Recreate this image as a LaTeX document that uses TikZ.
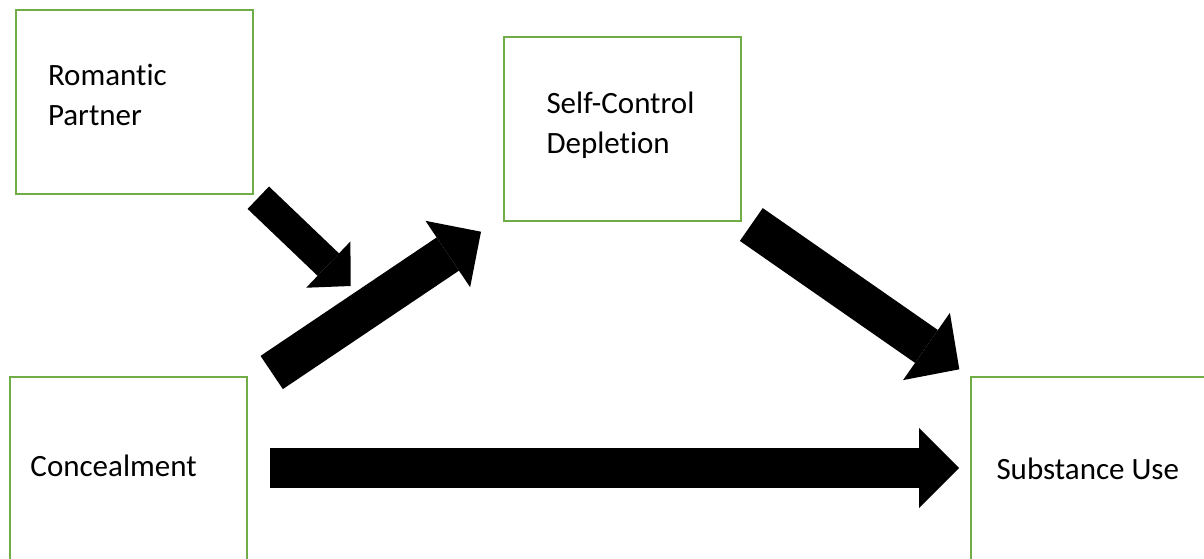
\documentclass[tikz,border=0pt]{standalone}
\usepackage{fontspec}
\setmainfont{Carlito}[Ligatures=NoCommon]
\usetikzlibrary{arrows.meta}
\definecolor{boxgreen}{RGB}{112,173,71}
\tikzset{
  box/.style={
    draw=boxgreen,
    line width=2pt,
    minimum width=237pt,
    minimum height=184pt,
    inner sep=0pt,
    text width=#1,
    align=flush left,
    anchor=north west,
    font=\fontsize{31}{40}\selectfont
  },
  flow/.style 2 args={
    line width=#1,
    -{Triangle[length=#1, width=#2, line width=0pt]}
  }
}

\begin{document}
\begin{tikzpicture}[x=1pt, y=-1pt]
   \useasboundingbox (0,0) rectangle (1204,558);
   \clip (0,0) rectangle (1204,558);

   \node[box=173pt, text depth=54pt] (partner)   at (15,9)    {Romantic\\Partner};
   \node[box=152pt, text depth=52pt] (depletion) at (503,36)  {Self-Control\\Depletion};
   \node[box=196pt, text depth=6pt]  (conceal)   at (9,376)   {Concealment};
   \node[box=186pt]                  (substance) at (970,376) {Substance Use};

   % free ends of the block arrows
   \coordinate (mod tail)  at (258.3,197.7);
   \coordinate (mod head)  at (350.7,286);
   \coordinate (a tail)    at (271.7,372.5);
   \coordinate (a head)    at (481,231.7);
   \coordinate (b tail)    at (751.3,224.5);
   \coordinate (b head)    at (959.3,369.3);
   \coordinate (c tail)    at (270,468);
   \coordinate (c head)    at (959,468);

   \draw[flow={31pt}{64pt}] (mod tail) -- (mod head);
   \draw[flow={40pt}{80pt}] (a tail) -- (a head);
   \draw[flow={40pt}{82pt}] (b tail) -- (b head);
   \draw[flow={40pt}{80pt}] (c tail) -- (c head);
\end{tikzpicture}
\end{document}
